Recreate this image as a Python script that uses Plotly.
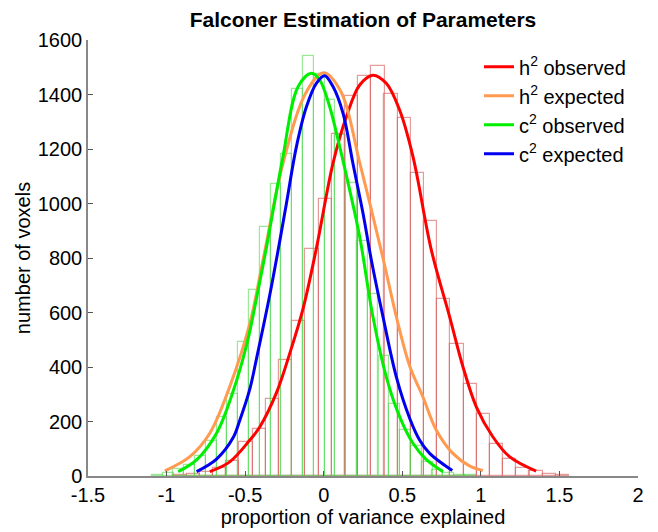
import plotly.graph_objects as go

# ---- data ----
green_bin_centers = [-1.059, -0.990, -0.922, -0.853, -0.784, -0.716, -0.647, -0.578, -0.510, -0.441,
                     -0.372, -0.304, -0.235, -0.166, -0.098, -0.029, 0.040, 0.108, 0.177, 0.246,
                     0.314, 0.383, 0.452, 0.520, 0.589, 0.658, 0.726, 0.795, 0.864, 0.932]
green_counts = [4, 12, 25, 40, 73, 130, 215, 301, 490, 683,
                913, 1070, 1180, 1421, 1541, 1475, 1380, 1250, 1074, 862,
                667, 440, 263, 169, 110, 50, 22, 10, 4, 2]
green_bin_width = 0.0687

red_bin_centers = [-0.914, -0.830, -0.746, -0.662, -0.578, -0.494, -0.410, -0.327, -0.243, -0.159,
                   -0.075, 0.009, 0.093, 0.177, 0.261, 0.345, 0.428, 0.512, 0.596, 0.680,
                   0.764, 0.848, 0.932, 1.016, 1.100, 1.184, 1.268, 1.351, 1.435, 1.519]
red_counts = [3, 6, 15, 30, 55, 126, 171, 283, 426, 570,
              832, 1018, 1254, 1396, 1467, 1505, 1402, 1315, 1111, 936,
              650, 484, 336, 226, 117, 62, 28, 20, 6, 3]
red_bin_width = 0.0839

h2_obs_x = [-0.725, -0.598, -0.470, -0.407, -0.301, -0.216, -0.131, -0.047, 0.059, 0.144, 0.229,
            0.313, 0.398, 0.483, 0.568, 0.685, 0.801, 0.886, 0.971, 1.076, 1.182, 1.352]
h2_obs_y = [16, 52, 132, 180, 305, 450, 615, 835, 1147, 1318, 1435,
            1471, 1441, 1343, 1172, 829, 585, 401, 254, 144, 71, 18]

h2_exp_x = [-1.011, -0.852, -0.725, -0.598, -0.470, -0.386, -0.259, -0.110, 0.000, 0.110, 0.229,
            0.377, 0.462, 0.547, 0.631, 0.716, 0.822, 0.928, 1.013]
h2_exp_y = [19, 71, 157, 328, 560, 793, 1147, 1410, 1480, 1410, 1150,
            800, 585, 404, 291, 169, 83, 37, 20]

c2_obs_x = [-0.926, -0.809, -0.682, -0.577, -0.491, -0.449, -0.364, -0.263, -0.163, -0.078, -0.025,
            0.038, 0.102, 0.165, 0.229, 0.313, 0.398, 0.483, 0.568, 0.650, 0.759]
c2_obs_y = [16, 59, 157, 310, 480, 590, 840, 1160, 1429, 1478, 1453,
            1355, 1208, 1050, 878, 585, 364, 218, 120, 62, 16]

c2_exp_x = [-0.809, -0.682, -0.577, -0.534, -0.470, -0.428, -0.343, -0.290, -0.237, -0.174, -0.110,
            -0.047, 0.006, 0.059, 0.123, 0.186, 0.250, 0.303, 0.377, 0.462, 0.547, 0.610, 0.674, 0.818]
c2_exp_y = [16, 62, 140, 205, 320, 430, 665, 829, 1001, 1208, 1355,
            1441, 1469, 1429, 1331, 1147, 964, 793, 585, 364, 212, 132, 83, 20]

x_ticks = [-1.5, -1, -0.5, 0, 0.5, 1, 1.5, 2]
x_tick_labels = ["-1.5", "-1", "-0.5", "0", "0.5", "1", "1.5", "2"]
y_ticks = [0, 200, 400, 600, 800, 1000, 1200, 1400, 1600]

FONT = "Liberation Sans, Arial, Helvetica, sans-serif"

W, H = 650, 524  # page body has an 8px margin

fig = go.Figure()

fig.add_trace(go.Bar(x=red_bin_centers, y=red_counts, width=red_bin_width,
                     marker=dict(color="rgba(0,0,0,0)", line=dict(color="rgba(215,90,90,0.6)", width=1.2)),
                     showlegend=False, hoverinfo="skip"))
fig.add_trace(go.Bar(x=green_bin_centers, y=green_counts, width=green_bin_width,
                     marker=dict(color="rgba(0,0,0,0)", line=dict(color="rgba(70,215,70,0.55)", width=1.2)),
                     showlegend=False, hoverinfo="skip"))

curves = [
    (h2_obs_x, h2_obs_y, "#ff0000", "h<sup>2</sup> observed"),
    (h2_exp_x, h2_exp_y, "#ff9a50", "h<sup>2</sup> expected"),
    (c2_obs_x, c2_obs_y, "#00ee00", "c<sup>2</sup> observed"),
    (c2_exp_x, c2_exp_y, "#0000ee", "c<sup>2</sup> expected"),
]
for xs, ys, col, name in curves:
    fig.add_trace(go.Scatter(x=xs, y=ys, mode="lines", name=name,
                             line=dict(color=col, width=3, shape="spline", smoothing=1.0)))

fig.update_layout(
    width=W, height=H,
    margin=dict(l=80, r=20, t=32, b=56, autoexpand=False),
    paper_bgcolor="white", plot_bgcolor="white",
    barmode="overlay", bargap=0,
    font=dict(family=FONT, size=20, color="black"),
    title=dict(text="<b>Falconer Estimation of Parameters</b>", font=dict(size=21, family=FONT),
               x=(80 + 275) / W, xref="container", xanchor="center", y=1 - 12 / H, yref="container",
               yanchor="middle"),
    legend=dict(x=1 - 7 / 550, y=0.99 - 3 / 436, xanchor="right", yanchor="top", bgcolor="rgba(0,0,0,0)",
                font=dict(size=20, family=FONT), tracegroupgap=0, itemwidth=30),
    xaxis=dict(range=[-1.5, 2], tickvals=x_ticks, ticktext=x_tick_labels, ticks="inside", ticklen=5,
               tickcolor="#555", showline=True, linecolor="#888", linewidth=1.5, showgrid=False,
               zeroline=False, mirror=False, automargin=False,
               title=dict(text="proportion of variance explained", font=dict(size=20), standoff=5)),
    yaxis=dict(range=[0, 1600], tickvals=y_ticks, ticks="inside", ticklen=5, tickcolor="#555",
               showline=True, linecolor="#888", linewidth=1.5, showgrid=False, zeroline=False,
               automargin=False,
               title=dict(text="number of voxels", font=dict(size=20), standoff=2)),
)

fig.write_html("out.html")
